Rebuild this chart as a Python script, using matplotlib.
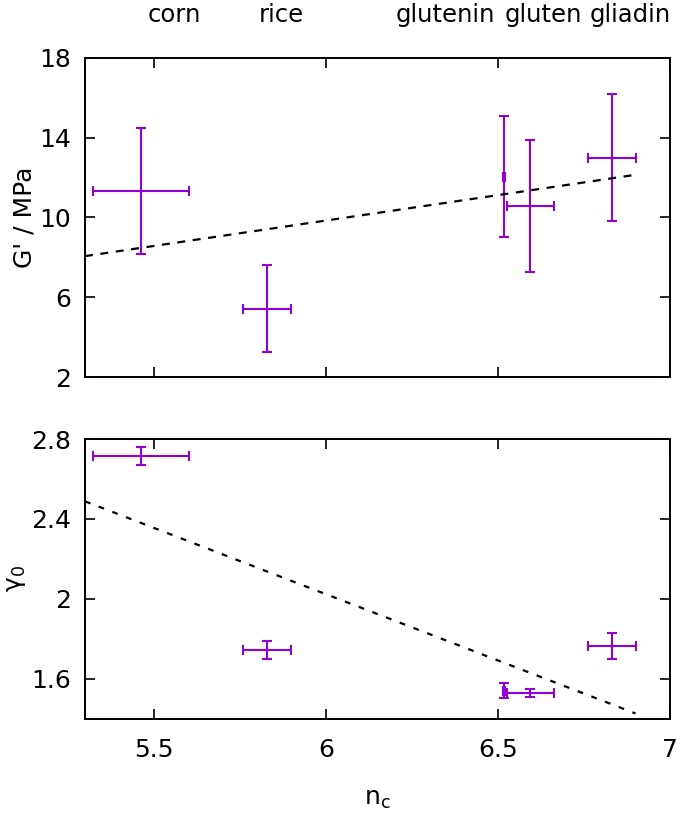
import numpy as np
import matplotlib
matplotlib.use("Agg")
import matplotlib.pyplot as plt

# samples, left to right along n_c
names = ["corn", "rice", "glutenin", "gluten", "gliadin"]
nc = [5.463, 5.83, 6.518, 6.594, 6.832]
nc_err = [0.14, 0.07, 0.003, 0.068, 0.07]

# storage modulus
G = [11.32, 5.44, 12.05, 10.58, 12.99]
G_err = [3.15, 2.2, 3.03, 3.3, 3.18]

# gamma_0
gam = [2.715, 1.746, 1.54, 1.53, 1.766]
gam_err = [0.045, 0.045, 0.037, 0.02, 0.065]

# where the sample names sit above the top panel
label_x = [5.56, 5.87, 6.347, 6.631, 6.884]
fit_range = (5.3, 6.9)

purple = "#9400D3";
plt.rcParams['font.family'] = ['DejaVu Sans'];
plt.rcParams['mathtext.default'] = 'regular';
fs = 18;

fig = plt.figure(figsize=(6.85, 8.13), dpi=100);
axTop = fig.add_axes([0.124, 0.536, 0.854, 0.393]);
axBot = fig.add_axes([0.124, 0.116, 0.854, 0.344]);

def drawPanel(ax, y, yerr, dashes):
    ax.errorbar(nc, y, xerr=nc_err, yerr=yerr, fmt='none', ecolor=purple,
                elinewidth=1.5, capsize=3.8, capthick=1.5);
    coef = np.polyfit(nc, y, 1);
    xx = np.linspace(fit_range[0], fit_range[1], 50);
    ax.plot(xx, np.polyval(coef, xx), color='black', lw=1.6, dashes=dashes);
    ax.set_xlim(5.3, 7.0);
    ax.set_xticks([5.5, 6, 6.5, 7]);
    ax.tick_params(direction='in', length=7, width=1.2, top=True, right=True,
                   labelsize=fs, pad=10);
    for s in ax.spines.values():
        s.set_linewidth(1.4);

drawPanel(axTop, G, G_err, (3.6, 3.4));
axTop.set_ylim(2, 18);
axTop.set_yticks([2, 6, 10, 14, 18]);
axTop.tick_params(labelbottom=False);
axTop.set_ylabel("G' / MPa", fontsize=fs, labelpad=2);
for i in range(len(names)):
    axTop.text(label_x[i], 1.135, names[i], fontsize=17.5, ha='center', va='center',
               transform=axTop.get_xaxis_transform());

drawPanel(axBot, gam, gam_err, (2.6, 4.0));
axBot.set_ylim(1.4, 2.8);
axBot.set_yticks([1.6, 2.0, 2.4, 2.8]);
axBot.set_yticklabels(["1.6", "2", "2.4", "2.8"]);
axBot.set_ylabel(r"$\gamma_0$", fontsize=fs, labelpad=2);
axBot.set_xticklabels(["5.5", "6", "6.5", "7"]);
axBot.tick_params(axis='x', pad=14);
axBot.set_xlabel(r"$n_c$", fontsize=fs, labelpad=18);

fig.savefig("out.png", dpi=100);
